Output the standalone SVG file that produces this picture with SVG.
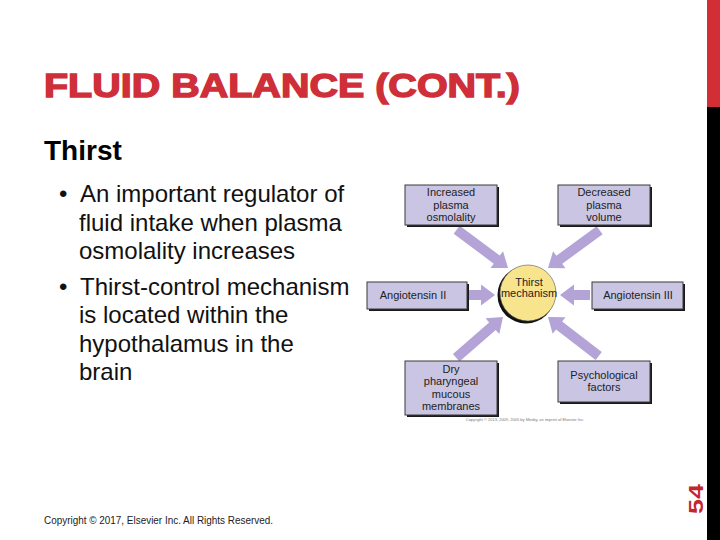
<svg xmlns="http://www.w3.org/2000/svg" width="720" height="540" viewBox="0 0 720 540">
<defs>
<style>
.title{font-family:"Liberation Sans",Arial,sans-serif;font-weight:bold;fill:#cf2f39;stroke:#cf2f39;stroke-width:1.4}
.sub{font-family:"Liberation Sans",Arial,sans-serif;font-weight:bold;font-size:28px;fill:#000}
.body{font-family:"Liberation Sans",Arial,sans-serif;font-size:24px;fill:#111}
.foot{font-family:"Liberation Sans",Arial,sans-serif;font-size:10px;fill:#222}
.lbl{font-family:"Liberation Sans",Arial,sans-serif;font-size:11px;fill:#222;text-anchor:middle}
.box{fill:#c9c5e3;stroke:#3a3a3a;stroke-width:1}
.shadow{fill:#1a1a1a}
.arrow{fill:#b3a3d7}
</style>
</defs>
<rect width="720" height="540" fill="#fff"/>
<rect x="707" y="0" width="13" height="107" fill="#d12f35"/>
<rect x="707" y="107" width="13" height="433" fill="#000"/>
<text transform="translate(703,499) rotate(-90)" font-family="Liberation Sans,Arial,sans-serif" font-weight="bold" font-size="20" fill="#c1272d" text-anchor="middle" textLength="30" lengthAdjust="spacingAndGlyphs">54</text>

<text class="title" x="44" y="97" font-size="33.5" textLength="476" lengthAdjust="spacingAndGlyphs">FLUID BALANCE (CONT.)</text>
<text class="sub" x="44" y="160">Thirst</text>

<g class="body">
<text x="59" y="202">•</text>
<text x="80" y="202">An important regulator of</text>
<text x="79" y="231">fluid intake when plasma</text>
<text x="79" y="259">osmolality increases</text>
<text x="59" y="295">•</text>
<text x="80" y="295">Thirst-control mechanism</text>
<text x="79" y="323">is located within the</text>
<text x="79" y="352">hypothalamus in the</text>
<text x="79" y="380">brain</text>
</g>

<text class="foot" x="44" y="524" textLength="229" lengthAdjust="spacingAndGlyphs">Copyright © 2017, Elsevier Inc. All Rights Reserved.</text>

<g id="connectors" class="arrow">
<polygon points="0,0 -14,-10.5 -14,-5 -64,-5 -64,5 -14,5 -14,10.5" transform="translate(508,268) rotate(36.7)"/>
<polygon points="0,0 -14,-10.5 -14,-5 -64,-5 -64,5 -14,5 -14,10.5" transform="translate(548,268) rotate(143.8)"/>
<polygon points="0,0 -14,-10.5 -14,-5 -32,-5 -32,5 -14,5 -14,10.5" transform="translate(495,295)"/>
<polygon points="0,0 -14,-10.5 -14,-5 -30,-5 -30,5 -14,5 -14,10.5" transform="translate(560,295) rotate(180)"/>
<polygon points="0,0 -14,-10.5 -14,-5 -62,-5 -62,5 -14,5 -14,10.5" transform="translate(503,317) rotate(-41)"/>
<polygon points="0,0 -14,-10.5 -14,-5 -64,-5 -64,5 -14,5 -14,10.5" transform="translate(548,317) rotate(-142.4)"/>
</g>

<g id="n-osm">
<rect class="shadow" x="407" y="187" width="92" height="40"/>
<rect class="box" x="405" y="185" width="92" height="40"/>
<text class="lbl" x="451" y="196">Increased</text>
<text class="lbl" x="451" y="209">plasma</text>
<text class="lbl" x="451" y="221">osmolality</text>
</g>
<g id="n-vol">
<rect class="shadow" x="560" y="187" width="92" height="40"/>
<rect class="box" x="558" y="185" width="92" height="40"/>
<text class="lbl" x="604" y="196">Decreased</text>
<text class="lbl" x="604" y="209">plasma</text>
<text class="lbl" x="604" y="221">volume</text>
</g>
<g id="n-ang2">
<rect class="shadow" x="369" y="284" width="100" height="27"/>
<rect class="box" x="367" y="282" width="100" height="27"/>
<text class="lbl" x="413" y="299">Angiotensin II</text>
</g>
<g id="n-ang3">
<rect class="shadow" x="594" y="284" width="91" height="27"/>
<rect class="box" x="592" y="282" width="91" height="27"/>
<text class="lbl" x="638" y="299">Angiotensin III</text>
</g>
<g id="n-dry">
<rect class="shadow" x="407" y="363" width="92" height="54"/>
<rect class="box" x="405" y="361" width="92" height="54"/>
<text class="lbl" x="451" y="373">Dry</text>
<text class="lbl" x="451" y="385">pharyngeal</text>
<text class="lbl" x="451" y="398">mucous</text>
<text class="lbl" x="451" y="410">membranes</text>
</g>
<g id="n-psy">
<rect class="shadow" x="560" y="363" width="92" height="41"/>
<rect class="box" x="558" y="361" width="92" height="41"/>
<text class="lbl" x="604" y="379">Psychological</text>
<text class="lbl" x="604" y="391">factors</text>
</g>
<g id="n-thirst">
<circle cx="526" cy="295" r="28.5" fill="#111"/>
<circle cx="528" cy="293" r="28" fill="#f9e48e" stroke="#555" stroke-width="0.6"/>
<text class="lbl" x="529" y="286">Thirst</text>
<text class="lbl" x="529" y="297">mechanism</text>
</g>
<text x="525" y="421" font-family="Liberation Sans,Arial,sans-serif" font-size="4" fill="#777" text-anchor="middle">Copyright © 2013, 2009, 2005 by Mosby, an imprint of Elsevier Inc.</text>
</svg>
